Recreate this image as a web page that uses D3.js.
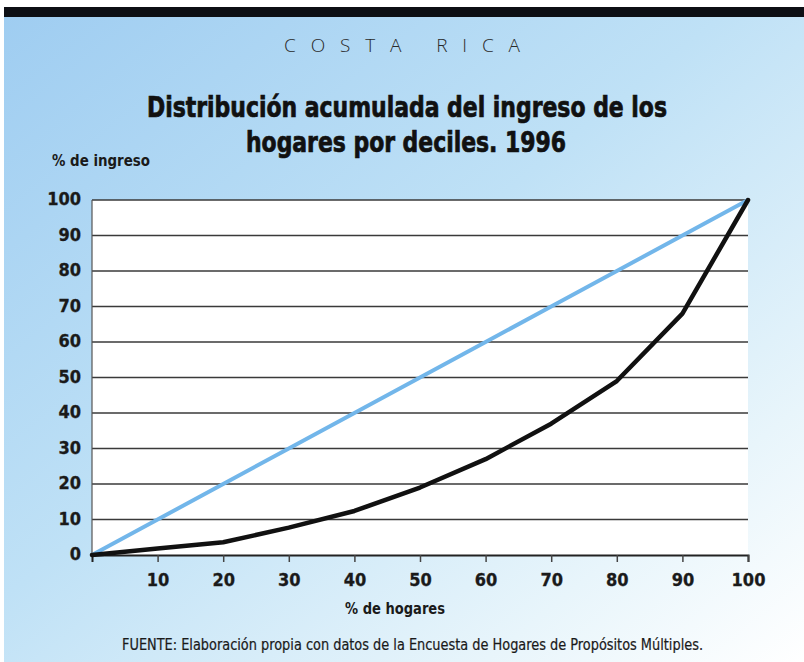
<!DOCTYPE html>
<html><head><meta charset="utf-8">
<script src="https://cdn.jsdelivr.net/npm/d3@7/dist/d3.min.js"></script>
<style>body{margin:0;background:#fff}svg{display:block}</style>
</head><body>
<svg id="c" width="804" height="662"></svg>
<script>
const deciles = [0,10,20,30,40,50,60,70,80,90,100];
const ingresoAcumulado = [0,1.8,3.6,7.7,12.4,19,27,37,49,68,100];
const igualdad = [0,10,20,30,40,50,60,70,80,90,100];
const yTicks = [0,10,20,30,40,50,60,70,80,90,100];
const xTicks = [10,20,30,40,50,60,70,80,90,100];

const svg = d3.select("#c");
const cond = "'Liberation Sans Narrow','DejaVu Sans Condensed','Roboto Condensed',sans-serif";

const defs = svg.append("defs");
const g1 = defs.append("linearGradient").attr("id","bg").attr("x1",0).attr("y1",0).attr("x2",1).attr("y2",1);
g1.append("stop").attr("offset","0").attr("stop-color","#9fcdf1");
g1.append("stop").attr("offset","0.45").attr("stop-color","#bfe1f6");
g1.append("stop").attr("offset","0.8").attr("stop-color","#e8f5fb");
g1.append("stop").attr("offset","1").attr("stop-color","#ffffff");

svg.append("rect").attr("x",0).attr("y",0).attr("width",804).attr("height",662).attr("fill","#fff");
svg.append("rect").attr("x",4).attr("y",16).attr("width",800).attr("height",646).attr("fill","url(#bg)");
svg.append("rect").attr("x",4).attr("y",7).attr("width",800).attr("height",10).attr("fill","#0d0f14");

const x = d3.scaleLinear().domain([0,100]).range([92,748]);
const y = d3.scaleLinear().domain([0,100]).range([555,200]);

// plot area
svg.append("rect").attr("x",x(0)).attr("y",y(100)).attr("width",x(100)-x(0)).attr("height",y(0)-y(100)).attr("fill","#ffffff");

// gridlines
svg.append("g").selectAll("line").data(yTicks.filter(d=>d>0)).join("line")
  .attr("x1",x(0)).attr("x2",x(100)).attr("y1",d=>y(d)).attr("y2",d=>y(d))
  .attr("stroke","#3a3a3a").attr("stroke-width",1.4);
// left edge
svg.append("line").attr("x1",x(0)).attr("x2",x(0)).attr("y1",y(100)).attr("y2",y(0)).attr("stroke","#555").attr("stroke-width",1.2);

// y labels
svg.append("g").selectAll("text").data(yTicks).join("text")
  .attr("x",81).attr("y",d=>y(d)+5).attr("text-anchor","end")
  .attr("font-family",cond).attr("font-weight","bold").attr("font-size",18).attr("fill","#1a1a1a")
  .attr("stroke","#1a1a1a").attr("stroke-width",0.3)
  .text(d=>d);

// x axis
const xAxis = d3.axisBottom(x).tickValues(xTicks).tickSize(7).tickFormat(d=>d);
const ax = svg.append("g").attr("transform",`translate(0,${y(0)})`).call(xAxis);
ax.select(".domain").attr("stroke","#222").attr("stroke-width",2);
ax.selectAll(".tick line").attr("stroke","#444").attr("stroke-width",1.5);
ax.selectAll(".tick text").attr("font-family",cond).attr("font-weight","bold").attr("font-size",18).attr("fill","#1a1a1a")
  .attr("stroke","#1a1a1a").attr("stroke-width",0.3).attr("dy","1.15em");

// lines
const line = d3.line().x((d,i)=>x(deciles[i])).y(d=>y(d));
svg.append("path").datum(igualdad).attr("d",line).attr("fill","none").attr("stroke","#72b6ea").attr("stroke-width",4);
svg.append("path").datum(ingresoAcumulado).attr("d",line).attr("fill","none").attr("stroke","#111").attr("stroke-width",4.5).attr("stroke-linejoin","round").attr("stroke-linecap","round");

// texts
svg.append("text").attr("x",284).attr("y",52)
  .attr("font-family","'Open Sans','DejaVu Sans',sans-serif").attr("font-weight",300).attr("font-size",19).attr("fill","#2a2a2a")
  .attr("textLength",236).attr("lengthAdjust","spacing").text("COSTA RICA");

svg.append("text").attr("x",407).attr("y",117).attr("text-anchor","middle")
  .attr("font-family",cond).attr("font-weight","bold").attr("font-size",28).attr("fill","#111")
  .attr("stroke","#111").attr("stroke-width",0.7)
  .attr("textLength",520).attr("lengthAdjust","spacingAndGlyphs")
  .text("Distribución acumulada del ingreso de los");
svg.append("text").attr("x",406).attr("y",152).attr("text-anchor","middle")
  .attr("font-family",cond).attr("font-weight","bold").attr("font-size",28).attr("fill","#111")
  .attr("stroke","#111").attr("stroke-width",0.7)
  .attr("textLength",320).attr("lengthAdjust","spacingAndGlyphs")
  .text("hogares por deciles. 1996");

svg.append("text").attr("x",52).attr("y",166)
  .attr("font-family",cond).attr("font-weight","bold").attr("font-size",16).attr("fill","#1a1a1a")
  .attr("textLength",98).attr("lengthAdjust","spacingAndGlyphs")
  .text("% de ingreso");

svg.append("text").attr("x",395).attr("y",614).attr("text-anchor","middle")
  .attr("font-family",cond).attr("font-weight","bold").attr("font-size",16).attr("fill","#1a1a1a")
  .attr("textLength",100).attr("lengthAdjust","spacingAndGlyphs")
  .text("% de hogares");

svg.append("text").attr("x",122).attr("y",650)
  .attr("font-family",cond).attr("font-size",15).attr("fill","#1a1a1a")
  .attr("stroke","#1a1a1a").attr("stroke-width",0.2)
  .attr("textLength",581).attr("lengthAdjust","spacingAndGlyphs")
  .text("FUENTE:  Elaboración propia con datos de la Encuesta de Hogares de Propósitos Múltiples.");
</script>
</body></html>
